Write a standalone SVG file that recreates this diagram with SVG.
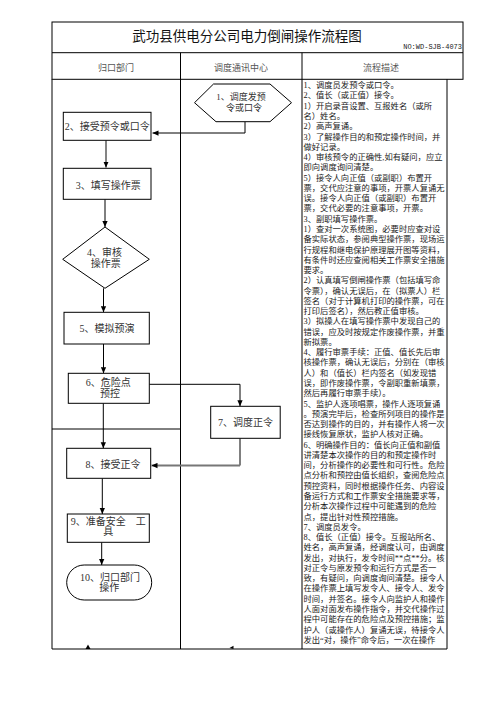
<svg xmlns="http://www.w3.org/2000/svg" width="496" height="702" viewBox="0 0 496 702">
<defs>
<style>
.frame{fill:none;stroke:#000;stroke-width:1}
.node{fill:#fff;stroke:#000;stroke-width:1}
.lbl{font-family:"Liberation Serif","Noto Sans CJK SC",serif;font-size:10px;fill:#333;text-anchor:middle}
.hdr{font-family:"Liberation Serif","Noto Sans CJK SC",serif;font-size:9px;fill:#555;text-anchor:middle}
.desc{font-family:"Liberation Serif","Noto Sans CJK SC",serif;font-size:8.3px;fill:#1a1a1a}
.conn{fill:none;stroke:#000;stroke-width:1}
.conng{fill:none;stroke:#777;stroke-width:1.8}
</style>
<marker id="arr" viewBox="0 0 8 8" refX="8" refY="4" markerWidth="6" markerHeight="6" orient="auto" markerUnits="userSpaceOnUse"><path d="M0,0.5 L8,4 L0,7.5 z" fill="#000"/></marker>
</defs>
<rect width="496" height="702" fill="#fff"/>
<g id="frame">
<rect class="frame" x="52" y="22" width="411" height="57.3"/>
<line class="frame" x1="52" y1="52.7" x2="463" y2="52.7"/>
<line class="frame" x1="180.5" y1="52.7" x2="180.5" y2="649"/>
<line class="frame" x1="302" y1="52.7" x2="302" y2="649"/>
<path class="frame" d="M52,79.3 V649 H447 V79.3"/>
<line class="frame" x1="52" y1="429" x2="180.5" y2="429"/>
<text x="247" y="41" style="font-family:'Noto Sans CJK SC',sans-serif;font-size:13.5px;fill:#111;text-anchor:middle">武功县供电分公司电力倒闸操作流程图</text>
<text x="462" y="48.5" style="font-family:'Liberation Mono',monospace;font-size:7px;fill:#222;text-anchor:end">NO:WD-SJB-4073</text>
<text class="hdr" x="116" y="70.5">归口部门</text>
<text class="hdr" x="241" y="70.5">调度通讯中心</text>
<text class="hdr" x="381" y="70.5">流程描述</text>
</g>
<g id="connectors">
<path class="conn" d="M245,121.7 V133 H152.5" marker-end="url(#arr)"/>
<path class="conng" d="M106,140.3 V167.5" marker-end="url(#arr)"/>
<path class="conn" d="M105,199.3 V227" marker-end="url(#arr)"/>
<path class="conn" d="M103.5,288.3 V312.3" marker-end="url(#arr)"/>
<path class="conn" d="M103.5,344 V373.3" marker-end="url(#arr)"/>
<path class="conn" d="M149.3,384.3 H240 V406.3" marker-end="url(#arr)"/>
<path class="conn" d="M103.3,403.3 V448.3" marker-end="url(#arr)"/>
<path class="conn" d="M240,438.3 V465.5"/>
<path class="conng" d="M240,465.5 H151.5" marker-end="url(#arr)"/>
<path class="conn" d="M102.3,478.3 V514" marker-end="url(#arr)"/>
<path class="conn" d="M101.7,542.3 V565" marker-end="url(#arr)"/>
<path d="M88,644.5 L85.5,649 L90.5,649 z" fill="#000"/>
<path d="M229.5,648 L233.5,645.8 L233.5,649 z" fill="#000"/>
</g>
<g id="n1">
<polygon class="node" points="194.5,102.7 213.5,84 270,84 291.5,102.7 270,121.7 216,121.7"/>
<text class="lbl" style="font-size:9px" x="241" y="99.5">1、调度发预</text>
<text class="lbl" style="font-size:9px" x="244" y="110.8">令或口令</text>
</g>
<g id="n2">
<rect class="node" x="63.3" y="112.3" width="87.7" height="28"/>
<text class="lbl" x="107.2" y="129.8">2、接受预令或口令</text>
</g>
<g id="n3">
<rect class="node" x="63.3" y="168.3" width="87.7" height="31"/>
<text class="lbl" x="108.3" y="188.8">3、填写操作票</text>
</g>
<g id="n4">
<polygon class="node" points="105,227 149.3,259.3 105,288.3 62.7,259.3"/>
<text class="lbl" x="104.5" y="255.5">4、审核</text>
<text class="lbl" x="105.7" y="266.5">操作票</text>
</g>
<g id="n5">
<rect class="node" x="64" y="312.3" width="85.3" height="31.7"/>
<text class="lbl" x="107" y="331.5">5、模拟预演</text>
</g>
<g id="n6">
<rect class="node" x="68.3" y="373.3" width="81" height="30"/>
<text class="lbl" x="108.3" y="385.5">6、危险点</text>
<text class="lbl" x="110" y="396.5">预控</text>
</g>
<g id="n7">
<rect class="node" x="210.7" y="406.3" width="69.5" height="32"/>
<text class="lbl" x="245.5" y="426.3">7、调度正令</text>
</g>
<g id="n8">
<rect class="node" x="66.7" y="448.3" width="84" height="30"/>
<text class="lbl" x="113" y="467.8">8、接受正令</text>
</g>
<g id="n9">
<rect class="node" x="67.3" y="514" width="82" height="28.3"/>
<text class="lbl" x="108.2" y="524.8">9、准备安全　工</text>
<text class="lbl" x="108.3" y="534.8">具</text>
</g>
<g id="n10">
<rect class="node" x="66.7" y="565" width="85" height="35" rx="17.5" ry="17.5"/>
<text class="lbl" x="110" y="580.5">10、归口部门</text>
<text class="lbl" x="109.3" y="590.5">操作</text>
</g>
<g id="description">
<text class="desc" x="303.5" y="88.2">
<tspan x="303.5" dy="0">1、调度员发预令或口令。</tspan>
<tspan x="303.5" dy="10.27">2、值长（或正值）接令。</tspan>
<tspan x="303.5" dy="10.27">1）开启录音设置、互报姓名（或所</tspan>
<tspan x="303.5" dy="10.27">名）姓名。</tspan>
<tspan x="303.5" dy="10.27">2）高声复诵。</tspan>
<tspan x="303.5" dy="10.27">3）了解操作目的和预定操作时间，并</tspan>
<tspan x="303.5" dy="10.27">做好记录。</tspan>
<tspan x="303.5" dy="10.27">4）审核预令的正确性,如有疑问，应立</tspan>
<tspan x="303.5" dy="10.27">即向调度询问清楚。</tspan>
<tspan x="303.5" dy="10.27">5）接令人向正值（或副职）布置开</tspan>
<tspan x="303.5" dy="10.27">票，交代应注意的事项，开票人复诵无</tspan>
<tspan x="303.5" dy="10.27">误。接令人向正值（或副职）布置开</tspan>
<tspan x="303.5" dy="10.27">票，交代必要的注意事项，开票。</tspan>
<tspan x="303.5" dy="10.27">3、副职填写操作票。</tspan>
<tspan x="303.5" dy="10.27">1）查对一次系统图，必要时应查对设</tspan>
<tspan x="303.5" dy="10.27">备实际状态，参阅典型操作票，现场运</tspan>
<tspan x="303.5" dy="10.27">行规程和继电保护原理展开图等资料，</tspan>
<tspan x="303.5" dy="10.27">有条件时还应查阅相关工作票安全措施</tspan>
<tspan x="303.5" dy="10.27">要求。</tspan>
<tspan x="303.5" dy="10.27">2）认真填写倒闸操作票（包括填写命</tspan>
<tspan x="303.5" dy="10.27">令票），确认无误后，在（拟票人）栏</tspan>
<tspan x="303.5" dy="10.27">签名（对于计算机打印的操作票，可在</tspan>
<tspan x="303.5" dy="10.27">打印后签名），然后教正值审核。</tspan>
<tspan x="303.5" dy="10.27">3）拟操人在填写操作票中发现自己的</tspan>
<tspan x="303.5" dy="10.27">错误，应及时按规定作废操作票，并重</tspan>
<tspan x="303.5" dy="10.27">新拟票。</tspan>
<tspan x="303.5" dy="10.27">4、履行审票手续：正值、值长先后审</tspan>
<tspan x="303.5" dy="10.27">核操作票，确认无误后，分别在（审核</tspan>
<tspan x="303.5" dy="10.27">人）和（值长）栏内签名（如发现错</tspan>
<tspan x="303.5" dy="10.27">误，即作废操作票，令副职重新填票，</tspan>
<tspan x="303.5" dy="10.27">然后再履行审票手续）。</tspan>
<tspan x="303.5" dy="10.27">5、监护人逐项唱票，操作人逐项复诵</tspan>
<tspan x="303.5" dy="10.27">。预演完毕后，检查所列项目的操作是</tspan>
<tspan x="303.5" dy="10.27">否达到操作的目的，并有操作人将一次</tspan>
<tspan x="303.5" dy="10.27">接线恢复原状，监护人核对正确。</tspan>
<tspan x="303.5" dy="10.27">6、明确操作目的：值长向正值和副值</tspan>
<tspan x="303.5" dy="10.27">讲清楚本次操作的目的和预定操作时</tspan>
<tspan x="303.5" dy="10.27">间，分析操作的必要性和可行性。危险</tspan>
<tspan x="303.5" dy="10.27">点分析和预控由值长组织，查阅危险点</tspan>
<tspan x="303.5" dy="10.27">预控资料，同时根据操作任务、内容设</tspan>
<tspan x="303.5" dy="10.27">备运行方式和工作票安全措施要求等，</tspan>
<tspan x="303.5" dy="10.27">分析本次操作过程中可能遇到的危险</tspan>
<tspan x="303.5" dy="10.27">点，提出针对性预控措施。</tspan>
<tspan x="303.5" dy="10.27">7、调度员发令。</tspan>
<tspan x="303.5" dy="10.27">8、值长（正值）接令。互报站所名、</tspan>
<tspan x="303.5" dy="10.27">姓名，高声复诵，经调度认可，由调度</tspan>
<tspan x="303.5" dy="10.27">发出，对执行，发令时间**点**分。核</tspan>
<tspan x="303.5" dy="10.27">对正令与原发预令和运行方式是否一</tspan>
<tspan x="303.5" dy="10.27">致，有疑问，向调度询问清楚。接令人</tspan>
<tspan x="303.5" dy="10.27">在操作票上填写发令人、接令人、发令</tspan>
<tspan x="303.5" dy="10.27">时间，并签名。接令人向监护人和操作</tspan>
<tspan x="303.5" dy="10.27">人面对面发布操作指令，并交代操作过</tspan>
<tspan x="303.5" dy="10.27">程中可能存在的危险点及预控措施；监</tspan>
<tspan x="303.5" dy="10.27">护人（或操作人）复诵无误，待接令人</tspan>
<tspan x="303.5" dy="10.27">发出“对，操作”命令后，一次在操作</tspan>
</text>
</g>
</svg>
